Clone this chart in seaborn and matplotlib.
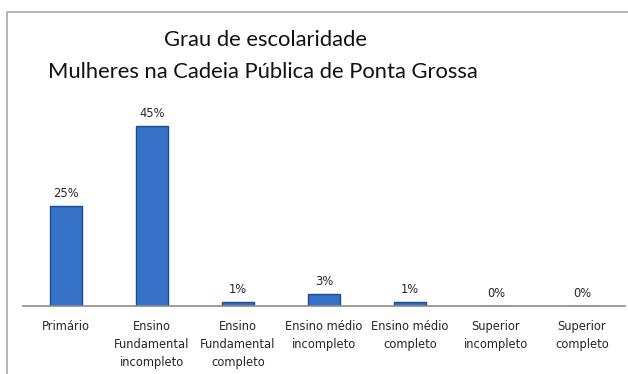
import matplotlib
matplotlib.use("Agg")
import matplotlib.pyplot as plt
import seaborn as sns
import pandas as pd
from matplotlib.patches import Rectangle

categories = ["Primário", "Ensino\nFundamental\nincompleto", "Ensino\nFundamental\ncompleto",
              "Ensino médio\nincompleto", "Ensino médio\ncompleto", "Superior\nincompleto",
              "Superior\ncompleto"]
values = [25, 45, 1, 3, 1, 0, 0]
value_labels = ["25%", "45%", "1%", "3%", "1%", "0%", "0%"]

sns.set_style("white")
W, H = 628, 374
fig = plt.figure(figsize=(W / 100, H / 100), dpi=100)

# outer chart frame
fig.patches.append(Rectangle((7 / W, -0.05), 1.1, 1 - 12 / H + 0.05, transform=fig.transFigure,
                             fill=False, edgecolor="#a8a8a8", linewidth=1.2))

ax_left, ax_right = 23 / W, 625 / W
base_y = 306
ax_top = 106
ax = fig.add_axes([ax_left, 1 - base_y / H, ax_right - ax_left, (base_y - ax_top) / H])

df = pd.DataFrame({"cat": categories, "val": values})
sns.barplot(data=df, x="cat", y="val", ax=ax, color="#3572c8", width=0.38,
            edgecolor="#1d4a8c", linewidth=1.0, saturation=1)

ax.set_ylim(0, 50)
ax.set_xlim(-0.5, len(categories) - 0.5)
ax.set_xlabel("")
ax.set_ylabel("")
ax.set_yticks([])
for s in ["top", "right", "left"]:
    ax.spines[s].set_visible(False)
ax.spines["bottom"].set_color("#8c8c8c")
ax.spines["bottom"].set_linewidth(1.2)
ax.tick_params(axis="x", length=0, pad=10)
for lbl in ax.get_xticklabels():
    lbl.set_fontsize(8.3)
    lbl.set_color("#262626")
    lbl.set_linespacing(1.5)
    lbl.set_family("DejaVu Sans")

for i, (v, t) in enumerate(zip(values, value_labels)):
    ax.annotate(t, (i, v), xytext=(0, 4), textcoords="offset points",
                ha="center", va="bottom", fontsize=8.3, color="#262626", family="DejaVu Sans")

fig.text(265 / W, 1 - 40 / H, "Grau de escolaridade", ha="center", va="center",
         fontsize=15.8, family="Lato", color="#111111")
fig.text(263 / W, 1 - 72 / H, "Mulheres na Cadeia Pública de Ponta Grossa", ha="center", va="center",
         fontsize=15.8, family="Lato", color="#111111")

fig.savefig("out.png", dpi=100, facecolor="white")
